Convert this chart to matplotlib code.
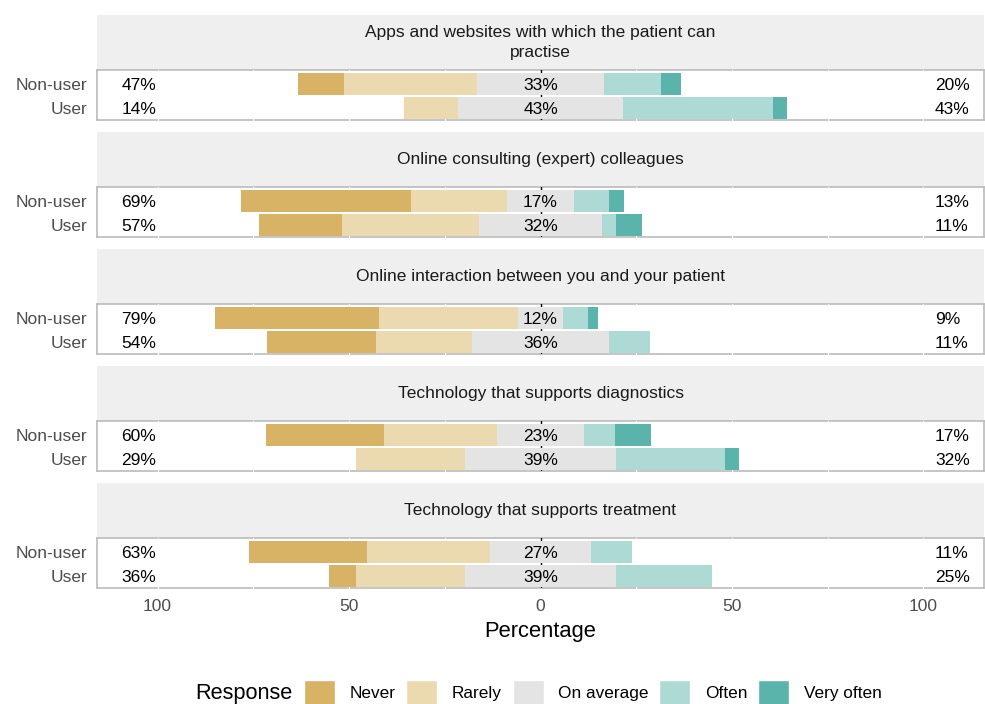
import numpy as np
import matplotlib
matplotlib.use("Agg")
import matplotlib.pyplot as plt
from matplotlib.patches import Patch

plt.rcParams['font.family'] = ['Liberation Sans', 'DejaVu Sans']

################
## DATA
################

items = [
    "Apps and websites with which the patient can\npractise",
    "Online consulting (expert) colleagues",
    "Online interaction between you and your patient",
    "Technology that supports diagnostics",
    "Technology that supports treatment",
]
groups = ["Non-user", "User"]
responses = ["Never", "Rarely", "On average", "Often", "Very often"]
colors = ["#D8B365", "#EBD9B0", "#E4E4E4", "#AEDAD6", "#5AB4AC"]

# percentage per response, one row per group (Non-user, User)
apps = [[12.0, 34.7, 33.3, 14.7, 5.3],
        [0.0, 14.3, 42.9, 39.3, 3.6]]
consulting = [[44.2, 25.2, 17.4, 9.3, 3.9],
              [21.6, 35.8, 32.0, 3.6, 7.0]]
interaction = [[42.7, 36.2, 12.0, 6.4, 2.7],
               [28.6, 25.0, 35.7, 10.7, 0.0]]
diagnostics = [[30.8, 29.3, 22.9, 8.0, 9.3],
               [0.0, 28.6, 39.3, 28.6, 3.6]]
treatment = [[30.7, 32.1, 26.6, 10.7, 0.0],
             [7.1, 28.6, 39.3, 25.0, 0.0]]
panels = [apps, consulting, interaction, diagnostics, treatment]

################
## PLOT
################

W, H = 985, 704
fig = plt.figure(figsize=(W / 100, H / 100), dpi=100)

def fx(px):
    return px / W

def fy(py):
    return 1 - py / H

left_px, right_px = 97, 984
panel_h, strip_h, step = 50, 55, 117
txt = 12.5

for i, (title, data) in enumerate(zip(items, panels)):
    top = 15 + i * step
    # strip
    sax = fig.add_axes([fx(left_px), fy(top + strip_h), fx(right_px - left_px), strip_h / H])
    sax.set_facecolor("#EFEFEF")
    for s in sax.spines.values():
        s.set_visible(False)
    sax.set_xticks([])
    sax.set_yticks([])
    sax.text(0.5, 0.5, title, ha="center", va="center", fontsize=txt,
             color="#1A1A1A", transform=sax.transAxes, linespacing=1.35)

    # panel
    ptop = top + strip_h
    ax = fig.add_axes([fx(left_px), fy(ptop + panel_h), fx(right_px - left_px), panel_h / H])
    ax.set_xlim(-115.8, 115.8)
    ax.set_ylim(2.53, 0.40)
    for s in ax.spines.values():
        s.set_color("#BBBBBB")
        s.set_linewidth(1.2)

    for g in np.arange(-100, 101, 25):
        if g == 0:
            continue
        ax.axvline(g, color="white", lw=0.8, zorder=3, clip_on=False)
    ax.axvline(0, color="black", lw=1.0, zorder=3.5)

    vals = np.array(data)
    ypos = np.arange(1, len(groups) + 1)
    # left side: half of "On average", then Rarely, then Never
    lstart = -vals[:, 2] / 2
    ax.barh(ypos, vals[:, 2], left=lstart, height=0.94, color=colors[2], zorder=4)
    cur = lstart.copy()
    for k in [1, 0]:
        cur = cur - vals[:, k]
        ax.barh(ypos, vals[:, k], left=cur, height=0.94, color=colors[k], zorder=4)
    cur = vals[:, 2] / 2
    for k in [3, 4]:
        ax.barh(ypos, vals[:, k], left=cur, height=0.94, color=colors[k], zorder=4)
        cur = cur + vals[:, k]

    for j, y in enumerate(ypos):
        low = vals[j, 0] + vals[j, 1]
        high = vals[j, 3] + vals[j, 4]
        ax.text(-100.3, y, f"{low:.0f}%", ha="right", va="center_baseline", fontsize=txt, zorder=5)
        ax.text(0, y, f"{vals[j, 2]:.0f}%", ha="center", va="center_baseline", fontsize=txt, zorder=5)
        ax.text(103, y, f"{high:.0f}%", ha="left", va="center_baseline", fontsize=txt, zorder=5)

    ax.set_yticks(ypos)
    ax.set_yticklabels(groups, fontsize=txt, color="#4D4D4D")
    ax.tick_params(axis="y", length=0, pad=7)
    ticks = [-100, -50, 0, 50, 100]
    ax.set_xticks(ticks)
    if i == len(panels) - 1:
        ax.set_xticklabels([str(abs(t)) for t in ticks], fontsize=txt, color="#4D4D4D")
        ax.tick_params(axis="x", length=0, pad=8)
        ax.set_xlabel("Percentage", fontsize=15.8, labelpad=5)
    else:
        ax.tick_params(axis="x", length=0, labelbottom=False)

# legend
handles = [Patch(facecolor=c, edgecolor="white", linewidth=1) for c in colors]
fig.legend(handles, responses, loc="center left", bbox_to_anchor=(fx(304), fy(693)),
           ncol=5, frameon=False, fontsize=12.4, handlelength=1.8, handleheight=2.0,
           handletextpad=0.85, columnspacing=0.62, borderpad=0, borderaxespad=0)
fig.text(fx(195), fy(693), "Response", fontsize=15.7, ha="left", va="center")

fig.savefig("out.png", dpi=100)
